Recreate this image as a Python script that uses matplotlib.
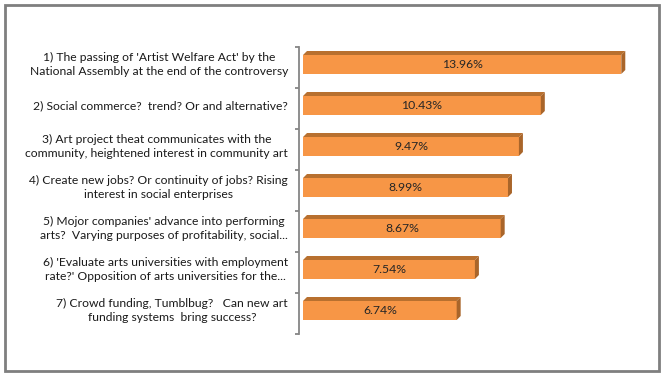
import matplotlib
matplotlib.use("Agg")
import matplotlib.pyplot as plt
from matplotlib.patches import Rectangle
import numpy as np

categories = [
    "1) The passing of 'Artist Welfare Act' by the\nNational Assembly at the end of the controversy",
    "2) Social commerce?  trend? Or and alternative?",
    "3) Art project theat communicates with the\ncommunity, heightened interest in community art",
    "4) Create new jobs? Or continuity of jobs? Rising\ninterest in social enterprises",
    "5) Mojor companies' advance into performing\narts?  Varying purposes of profitability, social...",
    "6) 'Evaluate arts universities with employment\nrate?' Opposition of arts universities for the...",
    "7) Crowd funding, Tumblbug?   Can new art\nfunding systems  bring success?",
]
values = [13.96, 10.43, 9.47, 8.99, 8.67, 7.54, 6.74]
value_labels = ["13.96%", "10.43%", "9.47%", "8.99%", "8.67%", "7.54%", "6.74%"]

FACE = "#F79646"
TOP = "#B8702F"
SIDE = "#A9652A"
FONT = ["Lato", "DejaVu Sans"]

W, H = 664, 380
fig = plt.figure(figsize=(W / 100, H / 100), dpi=100)
fig.patch.set_facecolor("white")

# outer frame
fig.add_artist(Rectangle((5 / W, 9 / H), 654 / W, 366 / H, transform=fig.transFigure,
                         fill=False, edgecolor="#7F7F7F", linewidth=2))

ax_left, ax_right, ax_top, ax_bottom = 299, 640, 47, 334
ax = fig.add_axes([ax_left / W, (H - ax_bottom) / H, (ax_right - ax_left) / W, (ax_bottom - ax_top) / H])

px_per_unit = 22.8
x0 = -4 / px_per_unit
x1 = x0 + (ax_right - ax_left) / px_per_unit
ax.set_xlim(x0, x1)
n = len(values)
ax.set_ylim(n - 0.5, -0.5)

cat_px = (ax_bottom - ax_top) / n
dx = 4 / px_per_unit
dy = 4 / cat_px
bh = 19 / cat_px
off = -3 / cat_px

y = np.arange(n) + off
ax.barh(y, values, height=bh, color=FACE, edgecolor="none", zorder=3)
for yi, v, lab in zip(y, values, value_labels):
    top = yi - bh / 2
    bot = yi + bh / 2
    ax.fill([0, v, v + dx, dx], [top, top, top - dy, top - dy], color=TOP, lw=0, zorder=3)
    ax.fill([v, v + dx, v + dx, v], [top, top - dy, bot - dy, bot], color=SIDE, lw=0, zorder=3)
    ax.text(v / 2, yi, lab, ha="center", va="center", fontsize=8.8, color="#262626",
            family=FONT, zorder=4)

for s in ["top", "right", "bottom"]:
    ax.spines[s].set_visible(False)
ax.spines["left"].set_color("#868686")
ax.spines["left"].set_linewidth(1.3)
ax.set_xticks([])
ax.set_yticks(np.arange(n + 1) - 0.5)
ax.set_yticklabels([])
ax.tick_params(axis="y", length=3, width=1.3, color="#868686", direction="out")

for yi, cat in zip(y, categories):
    ax.text(-11 / px_per_unit + x0, yi, cat, ha="right", va="center", multialignment="center",
            fontsize=8.7, color="#1A1A1A", family=FONT, linespacing=1.35)

fig.savefig("out.png", dpi=100, facecolor="white")
